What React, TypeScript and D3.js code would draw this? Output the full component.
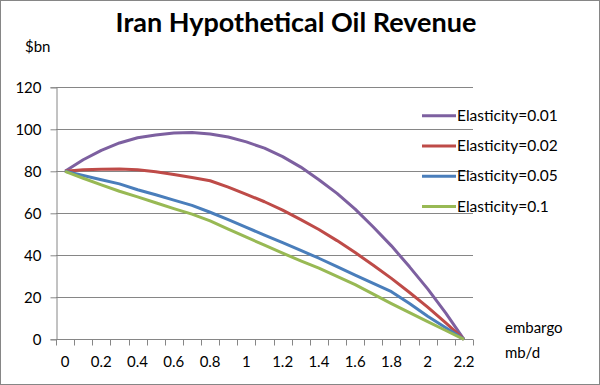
import { useEffect, useRef } from 'react';
import * as d3 from 'd3';

// embargo size in mb/d (category axis)
const embargo = [0, 0.1, 0.2, 0.3, 0.4, 0.5, 0.6, 0.7, 0.8, 0.9, 1, 1.1, 1.2, 1.3, 1.4, 1.5, 1.6, 1.7, 1.8, 1.9, 2, 2.1, 2.2];

const elasticity001 = [80, 85.5, 90, 93.5, 96, 97.3, 98.2, 98.5, 97.8, 96.3, 94, 91, 87, 82, 76, 69.5, 62, 53.5, 44.5, 34.5, 24, 12.5, 0];
const elasticity002 = [80, 80.7, 81, 81.1, 80.7, 79.8, 78.5, 77, 75.5, 72.5, 69, 65.5, 61.5, 57, 52.3, 47, 41.3, 35.3, 29, 22.3, 15.3, 7.8, 0];
const elasticity005 = [80, 78, 76, 74, 71.2, 68.8, 66.3, 63.8, 60.5, 57, 53.3, 49.6, 46, 42.3, 38.6, 34.6, 30.6, 26.6, 22.7, 17, 11, 5.5, 0];
const elasticity01 = [80, 76.7, 73.5, 70.5, 67.8, 65, 62.2, 59.6, 56.4, 52.5, 48.6, 44.8, 41, 37.4, 33.9, 30, 26, 21.5, 17, 12.7, 8.4, 4.2, 0];

const seriesNames = ['Elasticity=0.01', 'Elasticity=0.02', 'Elasticity=0.05', 'Elasticity=0.1'];
const seriesColors = ['#7D60A0', '#BE4B48', '#4A7EBB', '#98B954'];
const yTicks = [0, 20, 40, 60, 80, 100, 120];

const FONT = 'Lato, "Liberation Sans", sans-serif';
const LABEL_SIZE = '15px';

export default function App() {
  const svgRef = useRef<SVGSVGElement>(null);

  useEffect(() => {
    if (!svgRef.current) return;
    const svg = d3.select(svgRef.current);
    svg.selectAll('*').remove();

    const W = 600;
    const H = 385;
    const plot = { left: 56, right: 473, top: 87.3, bottom: 339.3 };

    const series = [elasticity001, elasticity002, elasticity005, elasticity01];

    const x = d3
      .scaleBand<number>()
      .domain(embargo.map((_, i) => i))
      .range([plot.left, plot.right])
      .paddingInner(0)
      .paddingOuter(0);
    const y = d3.scaleLinear().domain([0, 120]).range([plot.bottom, plot.top]);
    const cx = (i: number) => (x(i) as number) + x.bandwidth() / 2;

    // background + border
    svg
      .append('rect')
      .attr('x', 0.5)
      .attr('y', 0.5)
      .attr('width', W - 1)
      .attr('height', H - 1)
      .attr('fill', '#fff')
      .attr('stroke', '#868686');

    // title
    svg
      .append('text')
      .attr('x', 296)
      .attr('y', 32)
      .attr('text-anchor', 'middle')
      .style('font-family', FONT)
      .style('font-weight', 'bold')
      .style('font-size', '27px')
      .style('fill', '#000')
      .text('Iran Hypothetical Oil Revenue');

    svg
      .append('text')
      .attr('x', 25)
      .attr('y', 52)
      .style('font-family', FONT)
      .style('font-size', LABEL_SIZE)
      .text('$bn');

    // gridlines
    svg
      .append('g')
      .selectAll('line')
      .data(yTicks.filter((t) => t > 0))
      .enter()
      .append('line')
      .attr('x1', plot.left)
      .attr('x2', plot.right)
      .attr('y1', (d) => Math.round(y(d)) + 0.5)
      .attr('y2', (d) => Math.round(y(d)) + 0.5)
      .attr('stroke', '#868686');

    // y axis
    const yAxis = svg
      .append('g')
      .attr('transform', `translate(${Math.round(plot.left) + 0.5},0)`)
      .call(d3.axisLeft(y).tickValues(yTicks).tickSize(6).tickPadding(9).tickFormat((d) => String(d)));
    yAxis.select('.domain').attr('stroke', '#868686');
    yAxis.selectAll('line').attr('stroke', '#868686');
    yAxis
      .selectAll('text')
      .style('font-family', FONT)
      .style('font-size', LABEL_SIZE)
      .attr('fill', '#000');

    // x axis (category axis, ticks between categories)
    const xg = svg.append('g');
    const yb = Math.round(plot.bottom) + 0.5;
    xg.append('line')
      .attr('x1', plot.left)
      .attr('x2', plot.right)
      .attr('y1', yb)
      .attr('y2', yb)
      .attr('stroke', '#868686');
    const boundaries = embargo.map((_, i) => x(i) as number).concat([plot.right]);
    xg.selectAll('line.tick')
      .data(boundaries)
      .enter()
      .append('line')
      .attr('class', 'tick')
      .attr('x1', (d) => Math.round(d) + 0.5)
      .attr('x2', (d) => Math.round(d) + 0.5)
      .attr('y1', yb)
      .attr('y2', yb + 6)
      .attr('stroke', '#868686');
    xg.selectAll('text')
      .data(embargo.map((v, i) => ({ v, i })).filter((d) => d.i % 2 === 0))
      .enter()
      .append('text')
      .attr('x', (d) => cx(d.i))
      .attr('y', 367)
      .attr('text-anchor', 'middle')
      .style('font-family', FONT)
      .style('font-size', LABEL_SIZE)
      .text((d) => String(d.v));

    svg
      .append('text')
      .attr('x', 505)
      .attr('y', 333)
      .style('font-family', FONT)
      .style('font-size', LABEL_SIZE)
      .text('embargo');
    svg
      .append('text')
      .attr('x', 505)
      .attr('y', 358)
      .style('font-family', FONT)
      .style('font-size', LABEL_SIZE)
      .text('mb/d');

    // lines
    const line = d3
      .line<number>()
      .x((_, i) => cx(i))
      .y((d) => y(d));

    series.forEach((vals, k) => {
      svg
        .append('path')
        .datum(vals)
        .attr('fill', 'none')
        .attr('stroke', seriesColors[k])
        .attr('stroke-width', 3)
        .attr('stroke-linejoin', 'round')
        .attr('d', line);
    });

    // legend
    const legend = svg.append('g');
    seriesNames.forEach((name, k) => {
      const ly = 115.7 + k * 30.3;
      legend
        .append('line')
        .attr('x1', 422)
        .attr('x2', 456)
        .attr('y1', ly)
        .attr('y2', ly)
        .attr('stroke', seriesColors[k])
        .attr('stroke-width', 3);
      legend
        .append('text')
        .attr('x', 457)
        .attr('y', ly + 5)
        .style('font-family', FONT)
        .style('font-size', '15.5px')
        .text(name);
    });
  }, []);

  return (
    <svg
      ref={svgRef}
      width={600}
      height={385}
      style={{ position: 'absolute', left: 0, top: 0, display: 'block' }}
    />
  );
}
